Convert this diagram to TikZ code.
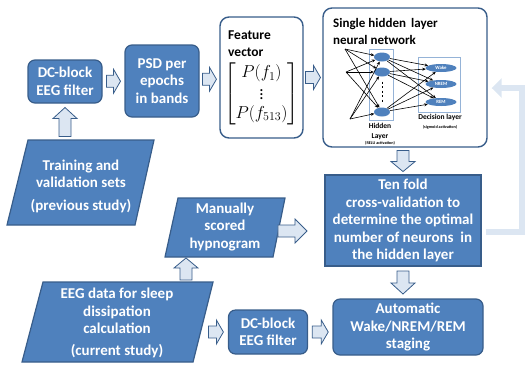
\documentclass[tikz,border=0pt]{standalone}
\usepackage{amsmath}
\usepackage{fontspec}
\setmainfont{Carlito}
\usetikzlibrary{shapes.geometric,calc,arrows.meta}

\definecolor{boxblue}{RGB}{79,129,189}
\definecolor{edgeblue}{RGB}{56,93,138}
\definecolor{paleblue}{RGB}{220,230,242}
\definecolor{layerblue}{RGB}{149,179,215}

\tikzset{
  pics/fatarrow/.style 2 args={code={
    \draw[edgeblue, fill=paleblue, line width=0.8pt]
      (-#1/2,-6) -- (#1/2-#2,-6) -- (#1/2-#2,-12) -- (#1/2,0)
      -- (#1/2-#2,12) -- (#1/2-#2,6) -- (-#1/2,6) -- cycle;
  }}
}

\begin{document}
\begin{tikzpicture}[x=1pt, y=-1pt,
    boxtext/.style = {text=white, font=\bfseries\fontsize{15}{17.5}\selectfont, align=center, inner sep=0pt},
    bluebox/.style = {boxtext, draw=edgeblue, fill=boxblue, line width=1.2pt},
    roundbox/.style = {bluebox, rounded corners=7pt},
    iobox/.style = {draw=edgeblue, fill=boxblue, line width=1.2pt},
    whitebox/.style = {draw=edgeblue, fill=white, line width=1.4pt, rounded corners=9pt, inner sep=0pt},
    titletext/.style = {font=\bfseries\fontsize{13.5}{17}\selectfont, align=left, inner sep=0pt},
    layerbox/.style = {draw=layerblue, line width=0.9pt},
    hid/.style = {ellipse, fill=boxblue, minimum width=16pt, minimum height=9pt, inner sep=0pt},
    outn/.style = {ellipse, fill=boxblue, minimum width=31pt, minimum height=8pt, inner sep=0pt,
      text=white, font=\bfseries\fontsize{4.8}{5}\selectfont},
    nnedge/.style = {line width=0.6pt, -{Stealth[length=3.5pt,width=3pt]}},
    nnlabel/.style = {font=\bfseries\fontsize{7.5}{10}\selectfont, align=center, inner sep=0pt},
    nnsmall/.style = {font=\bfseries\fontsize{4.2}{5}\selectfont, inner sep=0pt},
    feedback/.style = {paleblue, line width=6pt, -{Triangle[width=19pt,length=10pt]}}]
\useasboundingbox (0,0) rectangle (526,365);

% top row
\node[roundbox, minimum width=74pt, minimum height=43pt] (dcblock) at (65,81.5) {DC-block\\EEG filter};
\node[roundbox, minimum width=74pt, minimum height=72pt] (psd) at (162,81) {PSD per\\epochs\\in bands};
\node[whitebox, minimum width=83pt, minimum height=121pt] (feature) at (261.5,77.5) {};
\node[titletext, anchor=base west] (feattitle) at (228,56) {Feature\\vector};
\node[inner sep=0pt] (featvec) at (261.5,94) {\fontsize{17}{19}\selectfont
  $\begin{bmatrix} P(f_1)\\ \vdots\\ P(f_{513}) \end{bmatrix}$};
\node[whitebox, minimum width=164pt, minimum height=139pt] (nnet) at (405,77.5) {};
\node[titletext, anchor=base west, font=\bfseries\fontsize{13}{17}\selectfont] (nntitle) at (333,44.5) {Single hidden\, layer\\neural network};

% network inside
\draw[layerbox] (369,49) rectangle (393,120);
\draw[layerbox] (418,57) rectangle (460,112);
\coordinate (i1) at (345,49);
\coordinate (i2) at (346,72);
\coordinate (i3) at (350,119);
\node[hid] (h1) at (382,57) {};
\node[hid] (h2) at (382,72) {};
\node[hid] (h3) at (382,112) {};
\node[outn] (o1) at (441,68) {Wake};
\node[outn] (o2) at (441,84) {NREM};
\node[outn] (o3) at (441,102) {REM};
\draw[line width=0.8pt, dash pattern=on 2pt off 2.5pt] (h2.south) ++(0,5) -- (382,104);
\foreach \i in {1,2,3}
  \foreach \h in {1,2,3}
    \draw[nnedge] (i\i) -- (h\h);
\foreach \h in {1,2,3}
  \foreach \o in {1,2,3}
    \draw[nnedge] (h\h) -- (o\o);
\node[nnlabel] (hidlab) at (380,131) {Hidden\\Layer};
\node[nnsmall] (hidact) at (380,143) {(RELU activation)};
\node[nnlabel] (declab) at (440,117) {Decision layer};
\node[nnsmall] (decact) at (440,127) {(sigmoid activation)};

% middle and bottom
\node[bluebox, minimum width=156pt, minimum height=91pt] (tenfold) at (403,220.5)
  {Ten fold\\cross-validation to\\determine the optimal\\number of neurons\ \ in\\the hidden layer};
\node[roundbox, minimum width=150pt, minimum height=56pt] (staging) at (408,327) {Automatic\\Wake/NREM/REM\\staging};
\node[roundbox, minimum width=79pt, minimum height=44pt] (dcblock2) at (268,332) {DC-block\\EEG filter};

\draw[iobox] (28,140) -- (154,140) -- (135,225) -- (7,225) -- cycle;
\node[boxtext] (training) at (81,186) {Training and\\validation sets\\[5pt](previous study)};
\draw[iobox] (178,198) -- (285,198) -- (273,257) -- (165,257) -- cycle;
\node[boxtext] (hypno) at (225,226.5) {Manually\\scored\\hypnogram};
\draw[iobox] (43,282) -- (213,282) -- (193,362) -- (22,362) -- cycle;
\node[boxtext] (eegdata) at (117,323) {EEG data for sleep\\dissipation\\calculation\\[4pt](current study)};

% block arrows
\pic at ($(dcblock.east)!.5!(psd.west)$) {fatarrow={14}{7}};
\pic at ($(psd.east)!.5!(feature.west)$) {fatarrow={14}{7}};
\pic at ($(feature.east)!.5!(nnet.west |- feature.east)$) {fatarrow={15}{7}};
\pic[rotate=-90] at ($(tenfold.north)!.5!(tenfold.north |- nnet.south)$) {fatarrow={21}{10}};
\pic[rotate=-90] at ($(tenfold.south)!.5!(tenfold.south |- staging.north)$) {fatarrow={23}{11}};
\pic[rotate=90] at (dcblock.south |- 0,122) {fatarrow={29}{11}};
\pic[rotate=90] at (186,269) {fatarrow={22}{10}};
\pic at ($(hypno.east |- 0,231)!.5!(tenfold.west |- 0,231)$) {fatarrow={29}{12}};
\pic at ($(dcblock2.west)+(-12,0)$) {fatarrow={15}{7}};
\pic at ($(dcblock2.east)!.5!(staging.west |- dcblock2.east)$) {fatarrow={16}{7}};

% feedback loop
\coordinate (fbturn) at (522,88);
\draw[feedback] ([xshift=4pt]tenfold.east |- 0,232) -| (fbturn) -- ([xshift=4pt]nnet.east |- fbturn);
\end{tikzpicture}
\end{document}
